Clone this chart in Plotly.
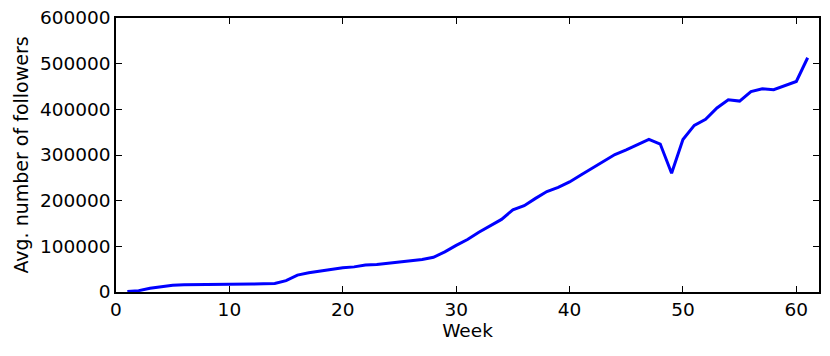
import plotly.graph_objects as go

weeks = list(range(1, 62))
followers = [
    1000, 3000, 8000, 12000, 15000, 16000, 16000, 16500, 17000, 17000,
    17500, 17500, 18000, 18500, 25000, 37000, 42000, 46000, 50000, 53000,
    55000, 59000, 60000, 63000, 65000, 68000, 71000, 76000, 88000, 102000,
    115000, 131000, 145000, 159000, 180000, 189000, 205000, 220000, 229000, 241000,
    256000, 271000, 285000, 301000, 311000, 322000, 334000, 324000, 260000, 334000,
    365000, 378000, 403000, 421000, 418000, 439000, 445000, 443000, 452000, 461000,
    513000,
]
x_ticks = [0, 10, 20, 30, 40, 50, 60]
y_ticks = [0, 100000, 200000, 300000, 400000, 500000, 600000]

fig = go.Figure()
fig.add_trace(go.Scatter(
    x=weeks, y=followers, mode="lines",
    line=dict(color="#0000ff", width=3),
    showlegend=False,
))

tick_font = dict(family="DejaVu Sans", size=18.5, color="black")
axis_common = dict(
    showline=True, linecolor="black", linewidth=1.5, mirror="ticks",
    ticks="inside", ticklen=6, tickwidth=1, tickcolor="black",
    showgrid=False, zeroline=False, tickfont=tick_font, automargin=False,
)
fig.update_xaxes(
    range=[0, 62], tickvals=x_ticks,
    title=dict(text="Week", font=dict(family="DejaVu Sans", size=18.5, color="black"), standoff=4),
    **axis_common,
)
fig.update_yaxes(
    range=[0, 600000], tickvals=y_ticks, tickformat="d",
    title=dict(text="Avg. number of followers", font=dict(family="DejaVu Sans", size=19, color="black"), standoff=6),
    **axis_common,
)
fig.update_layout(
    width=830, height=356,
    margin=dict(l=116, r=11, t=18, b=64),
    paper_bgcolor="white", plot_bgcolor="white",
    font=tick_font,
)
fig.write_html("out.html", config={"displayModeBar": False},
               post_script="document.body.style.margin='0';")
